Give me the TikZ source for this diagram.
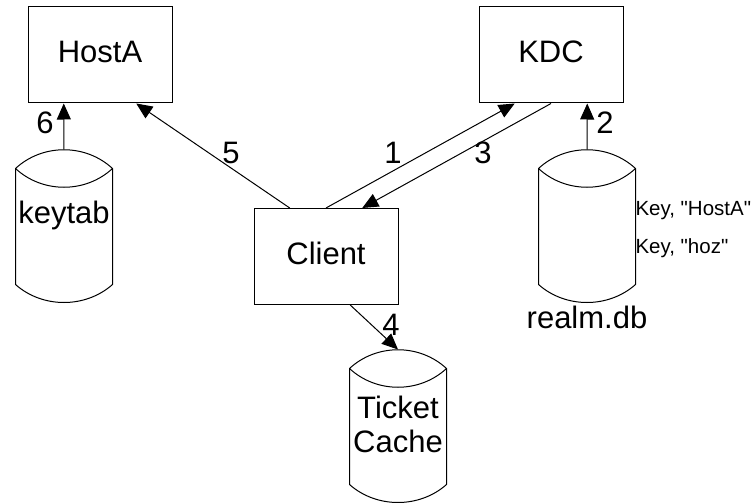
\documentclass[tikz,border=0pt]{standalone}
\usepackage{fontspec}
\setmainfont{Liberation Sans}
\newfontfamily\plainquotes{Liberation Sans}[Ligatures=TeXOff]
\usetikzlibrary{arrows.meta,calc}

\newcommand\lblfont{\fontsize{31}{36}\selectfont}
\newcommand\notefont{\plainquotes\fontsize{20.5}{24}\selectfont}

% outline of a storage drum (cylinder) drawn around an invisible node
\newcommand\drawdrum[1]{%
  \draw[fill=white] ($(#1.north west)+(0,19)$)
    .. controls +(27,-25) and +(-27,-25) .. ($(#1.north east)+(0,19)$)
    -- ($(#1.south east)+(0,-18)$)
    .. controls +(-27,24) and +(27,24) .. ($(#1.south west)+(0,-18)$)
    -- cycle;
  \draw ($(#1.north west)+(0,19)$)
    .. controls +(27,25) and +(-27,25) .. ($(#1.north east)+(0,19)$);
}

\tikzset{
  box/.style={draw, line width=1pt, minimum width=144pt, minimum height=96pt,
    inner sep=0pt, text height=22pt, text depth=7pt, font=\lblfont},
  drum/.style={inner sep=0pt, minimum width=96pt, minimum height=152pt},
  lbl/.style={inner sep=0pt, font=\lblfont, anchor=base},
  note/.style={inner sep=0pt, font=\notefont, anchor=base west},
  flow/.style={line width=1pt, -{Triangle[length=16pt,width=14pt]}},
}

\begin{document}
\begin{tikzpicture}[x=1pt, y=-1pt, line width=1pt]
  \useasboundingbox (0,0) rectangle (753,503);

  % servers and client
  \node[box] (hosta) at (100,55) {HostA};
  \node[box] (kdc) at (551,55) {KDC};
  \node[box] (client) at (326,256.5) {Client};

  % storage
  \node[drum] (keytab) at (64,226) {};
  \node[drum] (realm) at (587,226) {};
  \node[drum] (cache) at (398,426) {};
  \drawdrum{keytab}
  \drawdrum{realm}
  \drawdrum{cache}

  \node[lbl] (keytabtxt) at (64,223) {keytab};
  \node[lbl] (realmtxt) at (587,328) {realm.db};
  \node[lbl] (ticket) at (398,418) {Ticket};
  \node[lbl] (cachetxt) at (398,452) {Cache};

  \node[note] (keyhost) at (635,215) {Key, "HostA"};
  \node[note] (keyhoz) at (635,253) {Key, "hoz"};

  % message flow
  \draw[flow] (client.north) -- ($(kdc.south west)!0.25!(kdc.south east)$);
  \draw[flow] (realm.north) -- ($(kdc.south west)!0.75!(kdc.south east)$);
  \draw[flow] (kdc.south) -- ($(client.north west)!0.75!(client.north east)$);
  \draw[flow] ($(client.south west)!0.667!(client.south east)$) -- (cache.north);
  \draw[flow] ($(client.north west)!0.25!(client.north east)$) -- ($(hosta.south west)!0.75!(hosta.south east)$);
  \draw[flow] (keytab.north) -- ($(hosta.south west)!0.25!(hosta.south east)$);

  % step numbers
  \node[lbl] (s1) at (393,163) {1};
  \node[lbl] (s2) at (605,133) {2};
  \node[lbl] (s3) at (483,163) {3};
  \node[lbl] (s4) at (391,335) {4};
  \node[lbl] (s5) at (231,163) {5};
  \node[lbl] (s6) at (45,133) {6};
\end{tikzpicture}
\end{document}
